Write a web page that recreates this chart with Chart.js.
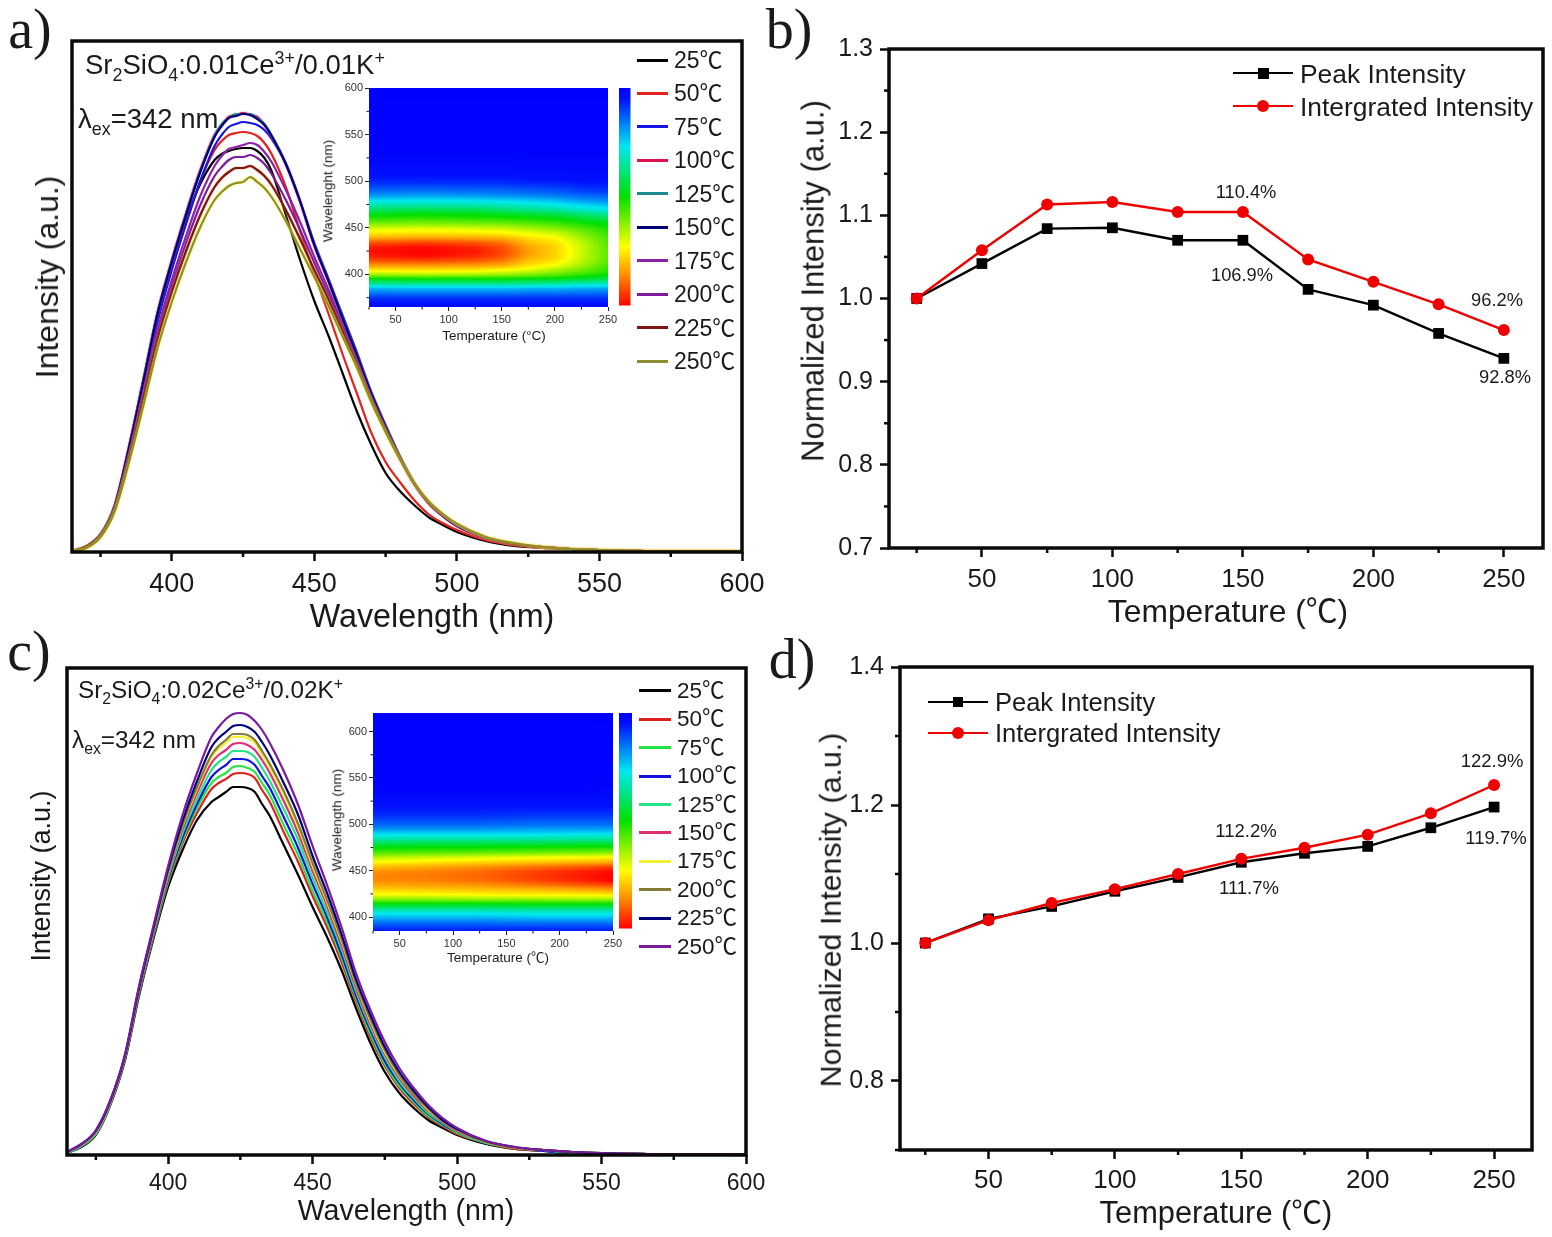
<!DOCTYPE html>
<html>
<head>
<meta charset="utf-8">
<title>Sr2SiO4 thermal quenching</title>
<script src="https://cdn.jsdelivr.net/npm/chart.js@4/dist/chart.umd.js"></script>
<style>
html, body { margin: 0; padding: 0; background: #fff; }
#page { position: relative; width: 1552px; height: 1237px; overflow: hidden; background: #fff; }
canvas { position: absolute; }
.txt { position: absolute; white-space: nowrap; color: #1a1a1a; line-height: 1; font-family: "Liberation Sans", "Noto Sans CJK SC", sans-serif; z-index: 5; }
.txt sub, .txt sup { font-size: 65%; line-height: 0; }
.swatch { position: absolute; z-index: 5; }
</style>
</head>
<body>
<div id="page"></div>
<script>
// temperatures shared by every panel
const temps = [25, 50, 75, 100, 125, 150, 175, 200, 225, 250];

// emission spectra x values (nm)
const wavelengths = [365, 370, 375, 380, 385, 390, 395, 400, 405, 410, 415, 417.5, 420, 422.5, 425, 427.5, 430, 432.5, 435, 440, 445, 450, 455, 460, 465, 470, 475, 480, 485, 490, 495, 500, 510, 520, 530, 540, 550, 570, 600];

// panel a spectra
const a25 = [1,6,18,47,106,172,238,288,333,368,392,398,401,403,404,404,401,394,381,337,292,251,216,178,140,107,79,61,47,35,27,20,11,6,4,3,2,1,1];
const a50 = [1,5,17,46,102,166,232,283,329,371,402,411,417,419,420,419,416,409,398,365,321,278,238,197,158,119,90,70,52,38,29,22,12,7,4,3,2,1,1];
const a75 = [1,5,16,45,100,165,230,282,328,371,406,417,425,428,430,429,427,422,413,388,351,309,273,236,199,160,127,96,70,50,37,27,14,8,5,3,2,1,1];
const a100 = [1,5,17,47,105,172,240,292,339,382,417,427,435,437,439,437,435,427,416,388,350,306,270,232,195,157,124,94,68,49,36,26,14,8,5,3,2,1,1];
const a125 = [1,5,17,47,104,171,239,291,338,381,416,428,434,438,438,438,434,428,417,389,351,307,271,233,196,158,125,95,69,50,37,27,14,8,5,3,2,1,1];
const a150 = [1,5,17,46,104,170,238,290,337,380,415,426,434,436,438,437,433,427,416,388,351,307,271,233,196,158,125,95,68,49,36,26,14,8,5,3,2,1,1];
const a175 = [1,5,16,44,98,160,222,272,316,356,386,396,403,405,407,409,407,400,390,362,330,295,262,226,191,154,122,93,68,49,37,27,14,8,5,3,2,1,1];
const a200 = [1,5,16,43,96,157,218,266,309,347,376,385,392,395,395,397,394,388,378,352,322,289,257,223,189,153,122,93,68,50,37,27,14,8,5,3,2,1,1];
const a225 = [1,5,16,43,94,154,213,260,301,337,365,374,380,384,384,386,382,376,367,342,313,282,252,220,187,152,122,94,69,50,38,28,15,8,5,3,2,1,1];
const a250 = [1,4,15,41,90,146,204,250,290,325,352,360,366,369,370,375,370,364,355,331,303,275,246,215,184,150,120,93,69,51,38,28,15,9,5,3,2,1,1];
const colorsA = ['#000000', '#e8201c', '#1414e6', '#e0124e', '#1a8c8c', '#00007e', '#8c22aa', '#7c1c9c', '#801414', '#8e8e30'];
const glowA = [null, null, null, '#ff80a0', null, null, null, null, '#e8a060', '#ffff00'];

// panel c spectra
const c25 = [2,8,20,50,94,160,217,268,305,335,353,358,363,368,368,367,363,351,340,310,280,248,218,185,147,112,83,62,47,35,27,20,11,6,4,2,2,1,1];
const c50 = [2,9,21,51,95,162,219,272,312,342,366,372,376,381,382,381,377,365,354,323,293,259,228,193,154,118,89,67,51,38,29,21,12,6,4,2,2,1,1];
const c75 = [2,9,21,51,96,163,221,274,315,347,372,378,382,388,389,387,383,372,361,330,300,264,233,197,157,121,91,69,53,39,30,22,12,7,4,2,2,1,1];
const c100 = [2,9,22,52,96,164,222,276,318,351,378,385,390,396,396,395,390,379,368,338,307,271,238,201,160,125,94,72,55,41,31,23,12,7,4,2,2,1,1];
const c125 = [2,9,22,52,97,165,223,278,322,356,385,393,398,404,404,403,398,387,375,346,315,277,243,206,164,128,98,74,57,42,32,23,12,7,5,2,2,1,1];
const c150 = [3,10,23,53,98,166,225,280,326,362,392,400,405,411,412,410,405,395,383,354,322,284,249,210,168,131,101,77,59,44,33,24,13,7,5,3,2,1,1];
const c175 = [3,10,23,53,98,167,226,282,329,366,398,406,412,418,418,417,412,401,389,361,328,289,253,214,171,134,103,79,61,45,34,25,13,7,5,3,2,1,1];
const c200 = [3,10,24,54,98,167,226,283,330,368,400,409,415,421,421,420,415,404,392,364,331,292,255,216,172,136,105,80,61,46,34,25,13,7,5,3,2,1,1];
const c225 = [3,11,24,54,99,168,228,286,334,374,408,417,423,429,430,428,423,413,401,372,340,299,262,221,176,140,108,83,64,48,35,26,14,8,5,3,2,1,1];
const c250 = [3,11,25,55,100,170,230,289,340,382,418,428,436,441,442,440,434,425,413,384,350,309,270,228,182,145,113,87,67,50,37,27,14,8,5,3,2,1,1];
const colorsC = ['#000000', '#e0201e', '#22e646', '#1212e0', '#22e486', '#e02e72', '#f4f038', '#857c36', '#00007e', '#7a1a9c'];

// panel b and d normalized intensities
const peakB = [1.0, 1.042, 1.084, 1.085, 1.07, 1.07, 1.011, 0.992, 0.958, 0.928];
const integB = [1.0, 1.058, 1.113, 1.116, 1.104, 1.104, 1.047, 1.02, 0.993, 0.962];
const peakD = [1.0, 1.035, 1.053, 1.075, 1.095, 1.117, 1.13, 1.14, 1.167, 1.197];
const integD = [1.0, 1.033, 1.058, 1.078, 1.1, 1.122, 1.138, 1.157, 1.188, 1.229];

// tick labels and minor ticks
const specTicks = [400, 450, 500, 550, 600];
const specMinor = [375, 425, 475, 525, 575];
const tempTicks = [50, 100, 150, 200, 250];
const tempMinor = [25, 75, 125, 175, 225];
const ticksB = [0.7, 0.8, 0.9, 1.0, 1.1, 1.2, 1.3];
const minorB = [0.75, 0.85, 0.95, 1.05, 1.15, 1.25];
const ticksD = [0.8, 1.0, 1.2, 1.4];
const minorD = [0.7, 0.9, 1.1, 1.3];
const insetTicks = [400, 450, 500, 550, 600];
const insetMinorA = [375, 425, 475, 525, 575];
const insetMinorC = [425, 475, 525, 575];

// inset a contour values, one row per temperature
const heatTempsA = [25, 75, 125, 150, 175, 200, 225, 250];
const heatWaveA = [365,375,385,390,395,400,405,410,415,420,425,430,435,440,445,450,455,460,465,470,475,480,485,490,500,510,530,600];
const heatA = [
  [.03,.08,.21,.34,.47,.63,.75,.84,.92,.97,.99,.97,.91,.82,.75,.69,.61,.54,.48,.40,.33,.26,.19,.14,.07,.04,.01,0],
  [.03,.08,.22,.35,.48,.65,.76,.85,.93,.99,1,.99,.93,.83,.76,.70,.62,.55,.50,.42,.34,.27,.20,.15,.07,.04,.01,0],
  [.03,.08,.22,.35,.48,.64,.75,.84,.91,.96,.98,.96,.91,.82,.75,.69,.61,.54,.49,.41,.33,.26,.19,.14,.07,.04,.01,0],
  [.03,.08,.22,.35,.48,.63,.73,.82,.88,.92,.93,.92,.88,.81,.74,.68,.60,.53,.47,.39,.32,.25,.18,.14,.07,.04,.01,0],
  [.03,.08,.21,.34,.47,.61,.70,.76,.80,.83,.84,.83,.80,.76,.71,.65,.58,.52,.45,.37,.30,.24,.17,.13,.06,.03,.01,0],
  [.03,.08,.21,.33,.46,.58,.65,.72,.76,.78,.78,.78,.76,.73,.68,.62,.56,.50,.43,.35,.28,.22,.16,.12,.06,.03,.01,0],
  [.03,.08,.20,.31,.44,.54,.60,.64,.67,.68,.68,.68,.67,.64,.61,.57,.52,.46,.39,.31,.25,.19,.14,.10,.05,.03,.01,0],
  [.03,.08,.20,.30,.42,.50,.54,.56,.58,.58,.58,.58,.57,.56,.54,.52,.48,.43,.36,.28,.23,.17,.13,.09,.05,.03,.01,0]
];

// inset c contour values
const heatTempsC = [25, 75, 125, 175, 225, 250];
const heatWaveC = [385,390,395,400,405,410,415,420,425,430,435,440,445,450,455,460,465,470,475,480,485,490,495,500,510,520,540,620];
const heatC = [
  [.05,.10,.15,.22,.28,.38,.50,.63,.73,.78,.83,.86,.87,.85,.80,.73,.66,.57,.50,.42,.33,.26,.19,.14,.08,.05,.01,0],
  [.05,.10,.15,.22,.28,.38,.50,.63,.73,.79,.84,.87,.88,.87,.82,.75,.68,.58,.51,.43,.34,.26,.19,.14,.08,.05,.01,0],
  [.05,.10,.15,.22,.28,.38,.50,.64,.74,.80,.85,.89,.90,.89,.85,.77,.70,.59,.51,.43,.34,.26,.19,.14,.08,.05,.01,0],
  [.05,.10,.16,.23,.29,.39,.51,.64,.75,.81,.88,.93,.94,.93,.88,.79,.72,.60,.52,.43,.34,.26,.20,.15,.09,.05,.01,0],
  [.05,.10,.16,.23,.29,.39,.51,.65,.75,.83,.91,.97,.98,.97,.91,.81,.73,.61,.53,.44,.35,.27,.20,.15,.09,.05,.01,0],
  [.05,.10,.16,.23,.29,.39,.51,.65,.76,.84,.93,1,1,.99,.93,.82,.74,.62,.53,.44,.35,.27,.20,.15,.09,.05,.015,0]
];

// rainbow colour map of both insets
const mapStops = [0, 0.05, 0.27, 0.5, 0.73, 0.85, 1];
const mapColors = [[0,0,255], [0,16,255], [0,232,240], [0,224,0], [255,255,0], [255,150,0], [255,0,0]];

Chart.defaults.font.family = '"Liberation Sans", sans-serif';
Chart.defaults.color = '#1a1a1a';
const page = document.getElementById('page');

function mapColor(v) {
  let i = 0;
  while (i < mapStops.length - 2 && v > mapStops[i + 1]) i++;
  const t = Math.min(1, Math.max(0, (v - mapStops[i]) / (mapStops[i + 1] - mapStops[i])));
  return mapColors[i].map((c, k) => c + (mapColors[i + 1][k] - c) * t);
}

function findCell(list, v) {
  let i = 0;
  while (i < list.length - 2 && v > list[i + 1]) i++;
  return [i, Math.min(1, Math.max(0, (v - list[i]) / (list[i + 1] - list[i])))];
}

// Frame around the plot and the short minor ticks
const framePlugin = {
  id: 'frame',
  afterDraw(chart, args, opts) {
    const ctx = chart.ctx, a = chart.chartArea;
    ctx.save();
    ctx.strokeStyle = '#0a0a0a';
    if (opts.width) {
      ctx.lineWidth = opts.width;
      ctx.strokeRect(a.left, a.top, a.right - a.left, a.bottom - a.top);
    }
    ctx.lineWidth = opts.minorWidth;
    (opts.minorX || []).forEach(v => {
      const x = chart.scales.x.getPixelForValue(v);
      ctx.beginPath(); ctx.moveTo(x, a.bottom); ctx.lineTo(x, a.bottom + opts.minorLen); ctx.stroke();
    });
    (opts.minorY || []).forEach(v => {
      const y = chart.scales.y.getPixelForValue(v);
      ctx.beginPath(); ctx.moveTo(a.left, y); ctx.lineTo(a.left - opts.minorLen, y); ctx.stroke();
    });
    ctx.restore();
  }
};

// Soft coloured edge some of the spectra have in the scan
const glowPlugin = {
  id: 'glow',
  beforeDatasetDraw(chart, args) {
    const glow = chart.data.datasets[args.index].glow;
    if (glow) {
      chart.ctx.save();
      chart.ctx.shadowColor = glow;
      chart.ctx.shadowBlur = 2;
    }
  },
  afterDatasetDraw(chart, args) {
    if (chart.data.datasets[args.index].glow) chart.ctx.restore();
  }
};

// Contour image and colour bar of the insets
const heatPlugin = {
  id: 'heat',
  afterDraw(chart, args, opts) {
    if (!opts.grid) return;
    const ctx = chart.ctx, a = chart.chartArea;
    const x0 = Math.round(a.left), y0 = Math.round(a.top);
    const w = Math.round(a.right) - x0, h = Math.round(a.bottom) - y0;
    const img = ctx.createImageData(w, h);
    for (let py = 0; py < h; py++) {
      const [j, fy] = findCell(opts.waves, chart.scales.y.getValueForPixel(y0 + py));
      for (let px = 0; px < w; px++) {
        const [i, fx] = findCell(opts.temps, chart.scales.x.getValueForPixel(x0 + px));
        const top = opts.grid[i][j] * (1 - fx) + opts.grid[i + 1][j] * fx;
        const bot = opts.grid[i][j + 1] * (1 - fx) + opts.grid[i + 1][j + 1] * fx;
        const c = mapColor(top * (1 - fy) + bot * fy);
        const k = (py * w + px) * 4;
        img.data[k] = c[0]; img.data[k + 1] = c[1]; img.data[k + 2] = c[2]; img.data[k + 3] = 255;
      }
    }
    ctx.putImageData(img, x0, y0);
    // colour bar, blue at the top
    const barTop = a.top + opts.barOffset, barH = a.bottom - a.top - opts.barShort;
    const g = ctx.createLinearGradient(0, barTop, 0, barTop + barH);
    mapStops.forEach((v, i) => g.addColorStop(v, 'rgb(' + mapColors[i].join(',') + ')'));
    ctx.fillStyle = g;
    ctx.fillRect(a.right + opts.barGap, barTop, opts.barWidth, barH);
  }
};

function addCanvas(left, top, width, height) {
  const c = document.createElement('canvas');
  c.width = width; c.height = height;
  c.style.left = left + 'px'; c.style.top = top + 'px';
  c.style.width = width + 'px'; c.style.height = height + 'px';
  page.appendChild(c);
  return c;
}

function put(x, y, html, size, opts) {
  opts = opts || {};
  const d = document.createElement('div');
  d.className = 'txt';
  d.innerHTML = html;
  d.style.left = x + 'px';
  d.style.top = y + 'px';
  d.style.fontSize = size + 'px';
  if (opts.family) d.style.fontFamily = opts.family;
  if (opts.rotate) d.style.transform = 'translate(-50%,-50%) rotate(-90deg)';
  else if (opts.left) d.style.transform = 'translate(0,-50%)';
  else d.style.transform = 'translate(-50%,-50%)';
  page.appendChild(d);
}

function bar(left, top, width, height, color, radius) {
  const d = document.createElement('div');
  d.className = 'swatch';
  d.style.cssText += 'left:' + left + 'px;top:' + top + 'px;width:' + width + 'px;height:' + height + 'px;background:' + color + ';' + (radius ? 'border-radius:50%;' : '');
  page.appendChild(d);
}

// Panel with a black frame, used for the four big plots
function bigChart(frame, datasets, x, y) {
  const lm = 62, bm = 48, pad = 30;
  const c = addCanvas(frame.left - lm, frame.top - pad, frame.right - frame.left + lm + pad, frame.bottom - frame.top + pad + bm);
  return new Chart(c, {
    type: 'scatter',
    data: { datasets: datasets },
    plugins: [glowPlugin, framePlugin],
    options: {
      responsive: false,
      animation: false,
      devicePixelRatio: 1,
      layout: { padding: { top: pad, right: pad, left: 0, bottom: 0 } },
      plugins: {
        legend: { display: false },
        tooltip: { enabled: false },
        frame: { width: 3.5, minorX: x.minor, minorY: y.minor, minorLen: 5, minorWidth: 2.5 }
      },
      scales: {
        x: {
          type: 'linear',
          min: x.min, max: x.max,
          afterBuildTicks: s => { s.ticks = x.ticks.map(v => ({ value: v })); },
          afterFit: s => { s.height = bm; },
          grid: { drawOnChartArea: false, tickLength: 9, tickWidth: 2.5, tickColor: '#0a0a0a' },
          border: { display: false },
          ticks: { font: { size: x.size }, padding: x.padding, maxRotation: 0, autoSkip: false, color: '#1a1a1a', callback: v => v }
        },
        y: {
          type: 'linear',
          min: y.min, max: y.max,
          afterBuildTicks: s => { s.ticks = (y.ticks || []).map(v => ({ value: v })); },
          afterFit: s => { s.width = lm; },
          grid: { display: !!y.ticks, drawOnChartArea: false, tickLength: 9, tickWidth: 2.5, tickColor: '#0a0a0a' },
          border: { display: false },
          ticks: { display: !!y.ticks, font: { size: 25 }, padding: 7, autoSkip: false, color: '#1a1a1a', callback: v => v.toFixed(1) }
        }
      }
    }
  });
}

function spectrum(list, colors, glows) {
  return list.map((vals, i) => ({
    label: temps[i] + '℃',
    data: wavelengths.map((w, k) => ({ x: w, y: vals[k] })),
    showLine: true,
    borderColor: colors[i],
    borderWidth: 2.2,
    cubicInterpolationMode: 'monotone',
    pointRadius: 0,
    glow: glows ? glows[i] : null,
    order: -i
  }));
}

function ratios(peak, integ) {
  const make = (label, vals, color, style, r) => ({
    label: label,
    data: temps.map((t, k) => ({ x: t, y: vals[k] })),
    showLine: true,
    borderColor: color,
    backgroundColor: color,
    borderWidth: 2.4,
    pointStyle: style,
    pointRadius: r,
    pointBorderWidth: 0
  });
  const a = make('Peak Intensity', peak, '#000000', 'rect', 7.6);
  const b = make('Intergrated Intensity', integ, '#ee0000', 'circle', 6);
  a.order = 1; b.order = 0;
  return [a, b];
}

function inset(frame, grid, tempsList, waves, yMin, yMax, minor, cfg) {
  const lm = 50, bm = 30, pad = 10, rm = 30;
  const c = addCanvas(frame.left - lm, frame.top - pad, frame.right - frame.left + lm + rm, frame.bottom - frame.top + pad + bm);
  return new Chart(c, {
    type: 'scatter',
    // contour nodes, the image is painted from them by the heat plugin
    data: { datasets: [{ data: [], pointRadius: 0 }] },
    plugins: [heatPlugin, framePlugin],
    options: {
      responsive: false,
      animation: false,
      devicePixelRatio: 1,
      layout: { padding: { top: pad, right: rm, left: 0, bottom: 0 } },
      plugins: {
        legend: { display: false },
        tooltip: { enabled: false },
        heat: Object.assign({ grid: grid, temps: tempsList, waves: waves }, cfg),
        frame: { width: 0, minorX: tempMinor, minorY: minor, minorLen: 2.5, minorWidth: 1 }
      },
      scales: {
        x: {
          type: 'linear', min: 25, max: 250,
          afterBuildTicks: s => { s.ticks = tempTicks.map(v => ({ value: v })); },
          afterFit: s => { s.height = bm; },
          grid: { drawOnChartArea: false, tickLength: 4, tickWidth: 1, tickColor: '#222' },
          border: { display: false },
          ticks: { font: { size: 11 }, padding: 2, maxRotation: 0, autoSkip: false, color: '#333', callback: v => v }
        },
        y: {
          type: 'linear', min: yMin, max: yMax,
          afterBuildTicks: s => { s.ticks = insetTicks.map(v => ({ value: v })); },
          afterFit: s => { s.width = lm; },
          grid: { drawOnChartArea: false, tickLength: 4, tickWidth: 1, tickColor: '#222' },
          border: { display: false },
          ticks: { font: { size: 11 }, padding: 2, autoSkip: false, color: '#333', callback: v => v }
        }
      }
    }
  });
}

// a) spectra
bigChart({ left: 72, top: 41, right: 742, bottom: 552 },
  spectrum([a25, a50, a75, a100, a125, a150, a175, a200, a225, a250], colorsA, glowA),
  { min: 365, max: 600, ticks: specTicks, minor: specMinor, size: 27, padding: 7 },
  { min: 0, max: 511 });
// c) spectra
bigChart({ left: 66.5, top: 668, right: 746, bottom: 1155 },
  spectrum([c25, c50, c75, c100, c125, c150, c175, c200, c225, c250], colorsC),
  { min: 365, max: 600, ticks: specTicks, minor: specMinor, size: 23, padding: 6 },
  { min: 0, max: 487 });
// b) normalized intensity
bigChart({ left: 889, top: 49, right: 1543, bottom: 548 },
  ratios(peakB, integB),
  { min: 14.4, max: 265, ticks: tempTicks, minor: tempMinor, size: 26, padding: 7 },
  { min: 0.7, max: 1.3, ticks: ticksB, minor: minorB });
// d) normalized intensity
bigChart({ left: 900, top: 667, right: 1532, bottom: 1150 },
  ratios(peakD, integD),
  { min: 15, max: 265, ticks: tempTicks, minor: tempMinor, size: 26, padding: 6 },
  { min: 0.7, max: 1.4, ticks: ticksD, minor: minorD });

// insets
inset({ left: 369, top: 88, right: 608, bottom: 307 }, heatA, heatTempsA, heatWaveA, 365, 600, insetMinorA,
  { barGap: 11, barWidth: 11.5, barOffset: 0, barShort: 1.5 });
inset({ left: 373, top: 713, right: 613, bottom: 931 }, heatC, heatTempsC, heatWaveC, 385, 620, insetMinorC,
  { barGap: 6, barWidth: 13, barOffset: 0, barShort: 2.5 });

// panel letters
const serif = '"Liberation Serif", serif';
put(30, 29, 'a)', 56, { family: serif });
put(789, 29, 'b)', 56, { family: serif });
put(29, 651, 'c)', 56, { family: serif });
put(792, 659, 'd)', 56, { family: serif });

// axis titles
put(47, 277, 'Intensity (a.u.)', 32, { rotate: true });
put(432, 616, 'Wavelength (nm)', 32.3);
put(813, 281, 'Normalized Intensity (a.u.)', 31, { rotate: true });
put(1228, 612, 'Temperature (℃)', 31.8);
put(41, 876, 'Intensity (a.u.)', 27, { rotate: true });
put(406, 1210, 'Wavelength (nm)', 28.6);
put(830, 910, 'Normalized Intensity (a.u.)', 30.4, { rotate: true });
put(1216, 1213, 'Temperature (℃)', 30.8);

// spectra captions
put(85, 65, 'Sr<sub>2</sub>SiO<sub>4</sub>:0.01Ce<sup>3+</sup>/0.01K<sup>+</sup>', 27.5, { left: true });
put(78, 119, 'λ<sub>ex</sub>=342 nm', 27.5, { left: true });
put(78, 690, 'Sr<sub>2</sub>SiO<sub>4</sub>:0.02Ce<sup>3+</sup>/0.02K<sup>+</sup>', 24.3, { left: true });
put(72, 740, 'λ<sub>ex</sub>=342 nm', 24.3, { left: true });

// inset titles
put(494, 336, 'Temperature (°C)', 13.5);
put(328, 191, 'Wavelenght (nm)', 13.5, { rotate: true });
put(498, 958, 'Temperature (℃)', 13.5);
put(337, 820, 'Wavelength (nm)', 13.5, { rotate: true });

// temperature legends
temps.forEach((t, i) => {
  const ya = 60 + i * 33.45;
  bar(637, ya - 1.5, 31, 3, colorsA[i]);
  put(674, ya, t + '℃', 23, { left: true });
  const yc = 690.7 + i * 28.45;
  bar(639, yc - 1.5, 32, 3, colorsC[i]);
  put(677, yc, t + '℃', 22.5, { left: true });
});

// intensity legends
function markerLegend(x, y, w, label, color, round, size, fs) {
  bar(x, y - 1.25, w, 2.5, color);
  bar(x + w / 2 - size / 2, y - size / 2, size, size, color, round);
  put(x + w + 7, y + 1, label, fs, { left: true });
}
markerLegend(1233, 73, 60, 'Peak Intensity', '#000000', false, 11, 26.4);
markerLegend(1233, 106, 60, 'Intergrated Intensity', '#ee0000', true, 12, 26.4);
markerLegend(928, 702, 60, 'Peak Intensity', '#000000', false, 10, 25.5);
markerLegend(928, 733, 60, 'Intergrated Intensity', '#ee0000', true, 12, 25.5);

// percentage labels
put(1246, 192, '110.4%', 18.3);
put(1242, 275, '106.9%', 18.3);
put(1497, 300, '96.2%', 18.3);
put(1505, 377, '92.8%', 18.3);
put(1246, 831, '112.2%', 18.5);
put(1249, 888, '111.7%', 18.5);
put(1492, 761, '122.9%', 18.5);
put(1496, 838, '119.7%', 18.5);
</script>
</body>
</html>
